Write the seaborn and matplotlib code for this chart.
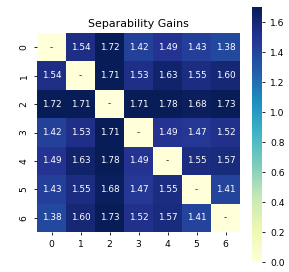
import numpy as np
import pandas as pd
import matplotlib
matplotlib.use("Agg")
import matplotlib.pyplot as plt
import seaborn as sns

# Pairwise separability gains (diagonal left empty)
labels = ["0", "1", "2", "3", "4", "5", "6"]
row0 = [0.00, 1.54, 1.72, 1.42, 1.49, 1.43, 1.38]
row1 = [1.54, 0.00, 1.71, 1.53, 1.63, 1.55, 1.60]
row2 = [1.72, 1.71, 0.00, 1.71, 1.78, 1.68, 1.73]
row3 = [1.42, 1.53, 1.71, 0.00, 1.49, 1.47, 1.52]
row4 = [1.49, 1.63, 1.78, 1.49, 0.00, 1.55, 1.57]
row5 = [1.43, 1.55, 1.68, 1.47, 1.55, 0.00, 1.41]
row6 = [1.38, 1.60, 1.73, 1.52, 1.57, 1.41, 0.00]

gains = pd.DataFrame([row0, row1, row2, row3, row4, row5, row6],
                     index=labels, columns=labels)

annot = gains.map(lambda v: f"{v:.2f}")
for i in range(len(labels)):
    annot.iloc[i, i] = "-"

fig = plt.figure(figsize=(2.89, 2.72), dpi=100)
ax = fig.add_axes([37 / 289, 1 - 232 / 272, 203 / 289, 199 / 272])
cax = fig.add_axes([252 / 289, 1 - 262 / 272, 10 / 289, 255 / 272])

sns.heatmap(gains, ax=ax, cbar_ax=cax, cmap="YlGnBu", vmin=0, vmax=1.7,
            annot=annot.values, fmt="", annot_kws={"size": 6.4})
ax.set_title("Separability Gains", fontsize=7.9, pad=4)
ax.tick_params(labelsize=6.6, length=2.5, width=0.6)
cax.tick_params(labelsize=6.6, length=2.5, width=0.6)
cax.set_yticks([0.0, 0.2, 0.4, 0.6, 0.8, 1.0, 1.2, 1.4, 1.6])
cax.set_yticklabels(["0.0", "0.2", "0.4", "0.6", "0.8", "1.0", "1.2", "1.4", "1.6"])

fig.savefig("out.png", dpi=100)
